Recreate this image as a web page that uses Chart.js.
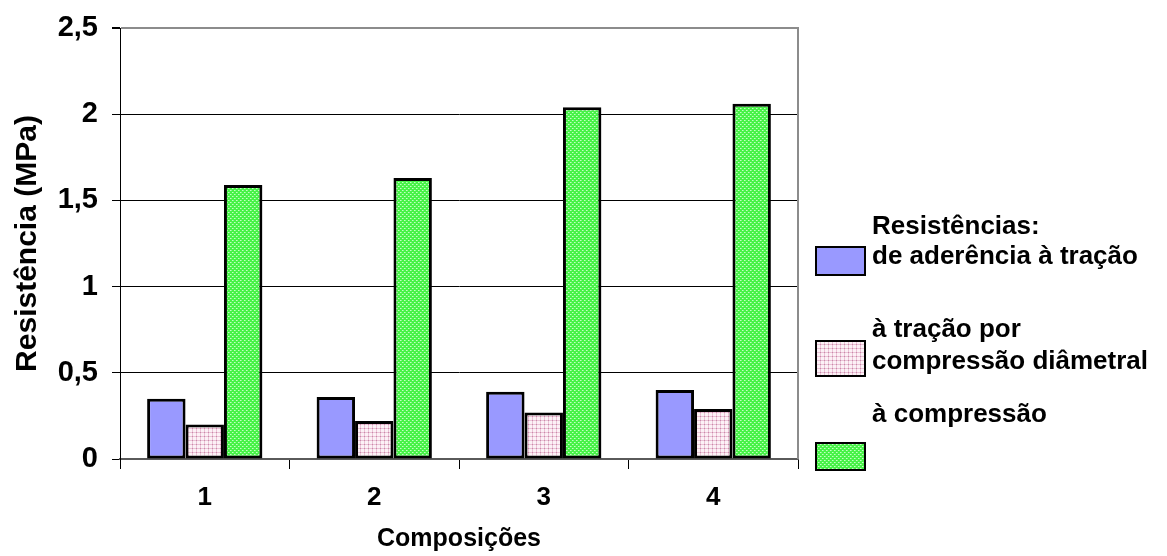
<!DOCTYPE html>
<html>
<head>
<meta charset="utf-8">
<script src="https://cdn.jsdelivr.net/npm/chart.js@4"></script>
<style>
  html, body { margin: 0; padding: 0; background: #fff; }
  #wrap { width: 1167px; height: 556px; }
</style>
</head>
<body>
<div id="wrap"><canvas id="chart" width="1167" height="556"></canvas></div>
<script>
// dados do gráfico
const categories = ['1', '2', '3', '4'];
const aderencia = [0.35, 0.36, 0.39, 0.40];
const diametral = [0.20, 0.22, 0.27, 0.29];
const compressao = [1.59, 1.63, 2.04, 2.06];
const yTicks = [0, 0.5, 1, 1.5, 2, 2.5];
const legendTitle = 'Resistências:';
const seriesLabels = [
  ['de aderência à tração'],
  ['à tração por', 'compressão diâmetral'],
  ['à compressão']
];

const FONT = '"Liberation Sans", Arial, sans-serif';

// textura pequena repetida (preenchimento tipo Excel)
function makePattern(size, draw) {
  const c = document.createElement('canvas');
  c.width = size;
  c.height = size;
  const g = c.getContext('2d');
  draw(g);
  return g.createPattern(c, 'repeat');
}

const blueFill = '#9999ff';

const pinkFill = makePattern(4, g => {
  g.fillStyle = '#fcf1f6';
  g.fillRect(0, 0, 4, 4);
  g.fillStyle = '#eac2d6';
  g.fillRect(0, 0, 4, 1);
  g.fillRect(0, 0, 1, 4);
  g.fillStyle = '#c98aa9';
  g.fillRect(0, 0, 1, 1);
});

const greenFill = makePattern(4, g => {
  g.fillStyle = '#48f248';
  g.fillRect(0, 0, 4, 4);
  g.fillStyle = '#c4ffc4';
  g.fillRect(0, 0, 1, 1);
  g.fillRect(2, 2, 1, 1);
  g.fillStyle = '#8cfa8c';
  g.fillRect(1, 0, 1, 1);
  g.fillRect(3, 2, 1, 1);
});

const fills = [blueFill, pinkFill, greenFill];

// borda direita da área do gráfico
const frameRight = {
  id: 'frameRight',
  afterDatasetsDraw(chart) {
    const { ctx, chartArea } = chart;
    ctx.save();
    ctx.strokeStyle = '#8c8c8c';
    ctx.lineWidth = 2;
    ctx.beginPath();
    ctx.moveTo(chartArea.right, chartArea.top - 1);
    ctx.lineTo(chartArea.right, chartArea.bottom);
    ctx.stroke();
    ctx.restore();
  }
};

// legenda à direita, com título e rótulos em várias linhas
const sideLegend = {
  id: 'sideLegend',
  afterDraw(chart) {
    const ctx = chart.ctx;
    const boxes = [[816, 247, 49, 28], [816, 341, 49, 35], [816, 443, 49, 27]];
    const baselines = [[264], [337, 369], [422]];
    const textX = 872;
    ctx.save();
    ctx.font = 'bold 26px ' + FONT;
    ctx.fillStyle = '#000';
    ctx.textBaseline = 'alphabetic';
    ctx.fillText(legendTitle, textX, 234);
    seriesLabels.forEach((lines, i) => {
      const [x, y, w, h] = boxes[i];
      ctx.fillStyle = fills[i];
      ctx.fillRect(x, y, w, h);
      ctx.strokeStyle = '#000';
      ctx.lineWidth = 2;
      ctx.strokeRect(x, y, w, h);
      ctx.fillStyle = '#000';
      lines.forEach((line, j) => ctx.fillText(line, textX, baselines[i][j]));
    });
    ctx.restore();
  }
};

function barSet(label, data, fill) {
  return {
    label: label,
    data: data,
    backgroundColor: fill,
    borderColor: '#000',
    borderWidth: 3,
    borderSkipped: false,
    categoryPercentage: 0.68,
    barPercentage: 1.0
  };
}

const chart = new Chart(document.getElementById('chart'), {
  type: 'bar',
  data: {
    labels: categories,
    datasets: [
      barSet(seriesLabels[0].join(' '), aderencia, fills[0]),
      barSet(seriesLabels[1].join(' '), diametral, fills[1]),
      barSet(seriesLabels[2].join(' '), compressao, fills[2])
    ]
  },
  options: {
    responsive: false,
    animation: false,
    layout: { padding: { top: 28, right: 369, left: 0, bottom: 0 } },
    plugins: {
      legend: { display: false },
      tooltip: { enabled: false }
    },
    scales: {
      x: {
        afterFit: s => { s.height = 97; },
        ticks: { color: '#000', padding: 13, font: { family: FONT, size: 26, weight: 'bold' } },
        grid: { drawOnChartArea: false, offset: true, tickLength: 10, color: '#000' },
        border: { color: '#5a5a5a', width: 2 },
        title: {
          display: true,
          text: 'Composições',
          color: '#000',
          font: { family: FONT, size: 25, weight: 'bold' },
          padding: { top: 0, bottom: 2 }
        }
      },
      y: {
        min: 0,
        max: 2.5,
        afterBuildTicks: s => { s.ticks = yTicks.map(v => ({ value: v })); },
        afterFit: s => {
          s.width = 120;
          s.paddingTop = 0;
          s.paddingBottom = 0;
        },
        ticks: {
          color: '#000',
          padding: 14,
          font: { family: FONT, size: 29, weight: 'bold' },
          callback: v => String(v).replace('.', ',')
        },
        grid: {
          color: c => (c.tick && c.tick.value === 2.5 ? '#8c8c8c' : '#000'),
          lineWidth: c => (c.tick && c.tick.value === 2.5 ? 2 : 1),
          tickColor: '#000',
          tickLength: 8
        },
        border: { color: '#000', width: 1 },
        title: {
          display: true,
          text: 'Resistência (MPa)',
          color: '#000',
          font: { family: FONT, size: 30, weight: 'bold' },
          padding: { top: 10, bottom: 0 }
        }
      }
    }
  },
  plugins: [frameRight, sideLegend]
});
</script>
</body>
</html>
